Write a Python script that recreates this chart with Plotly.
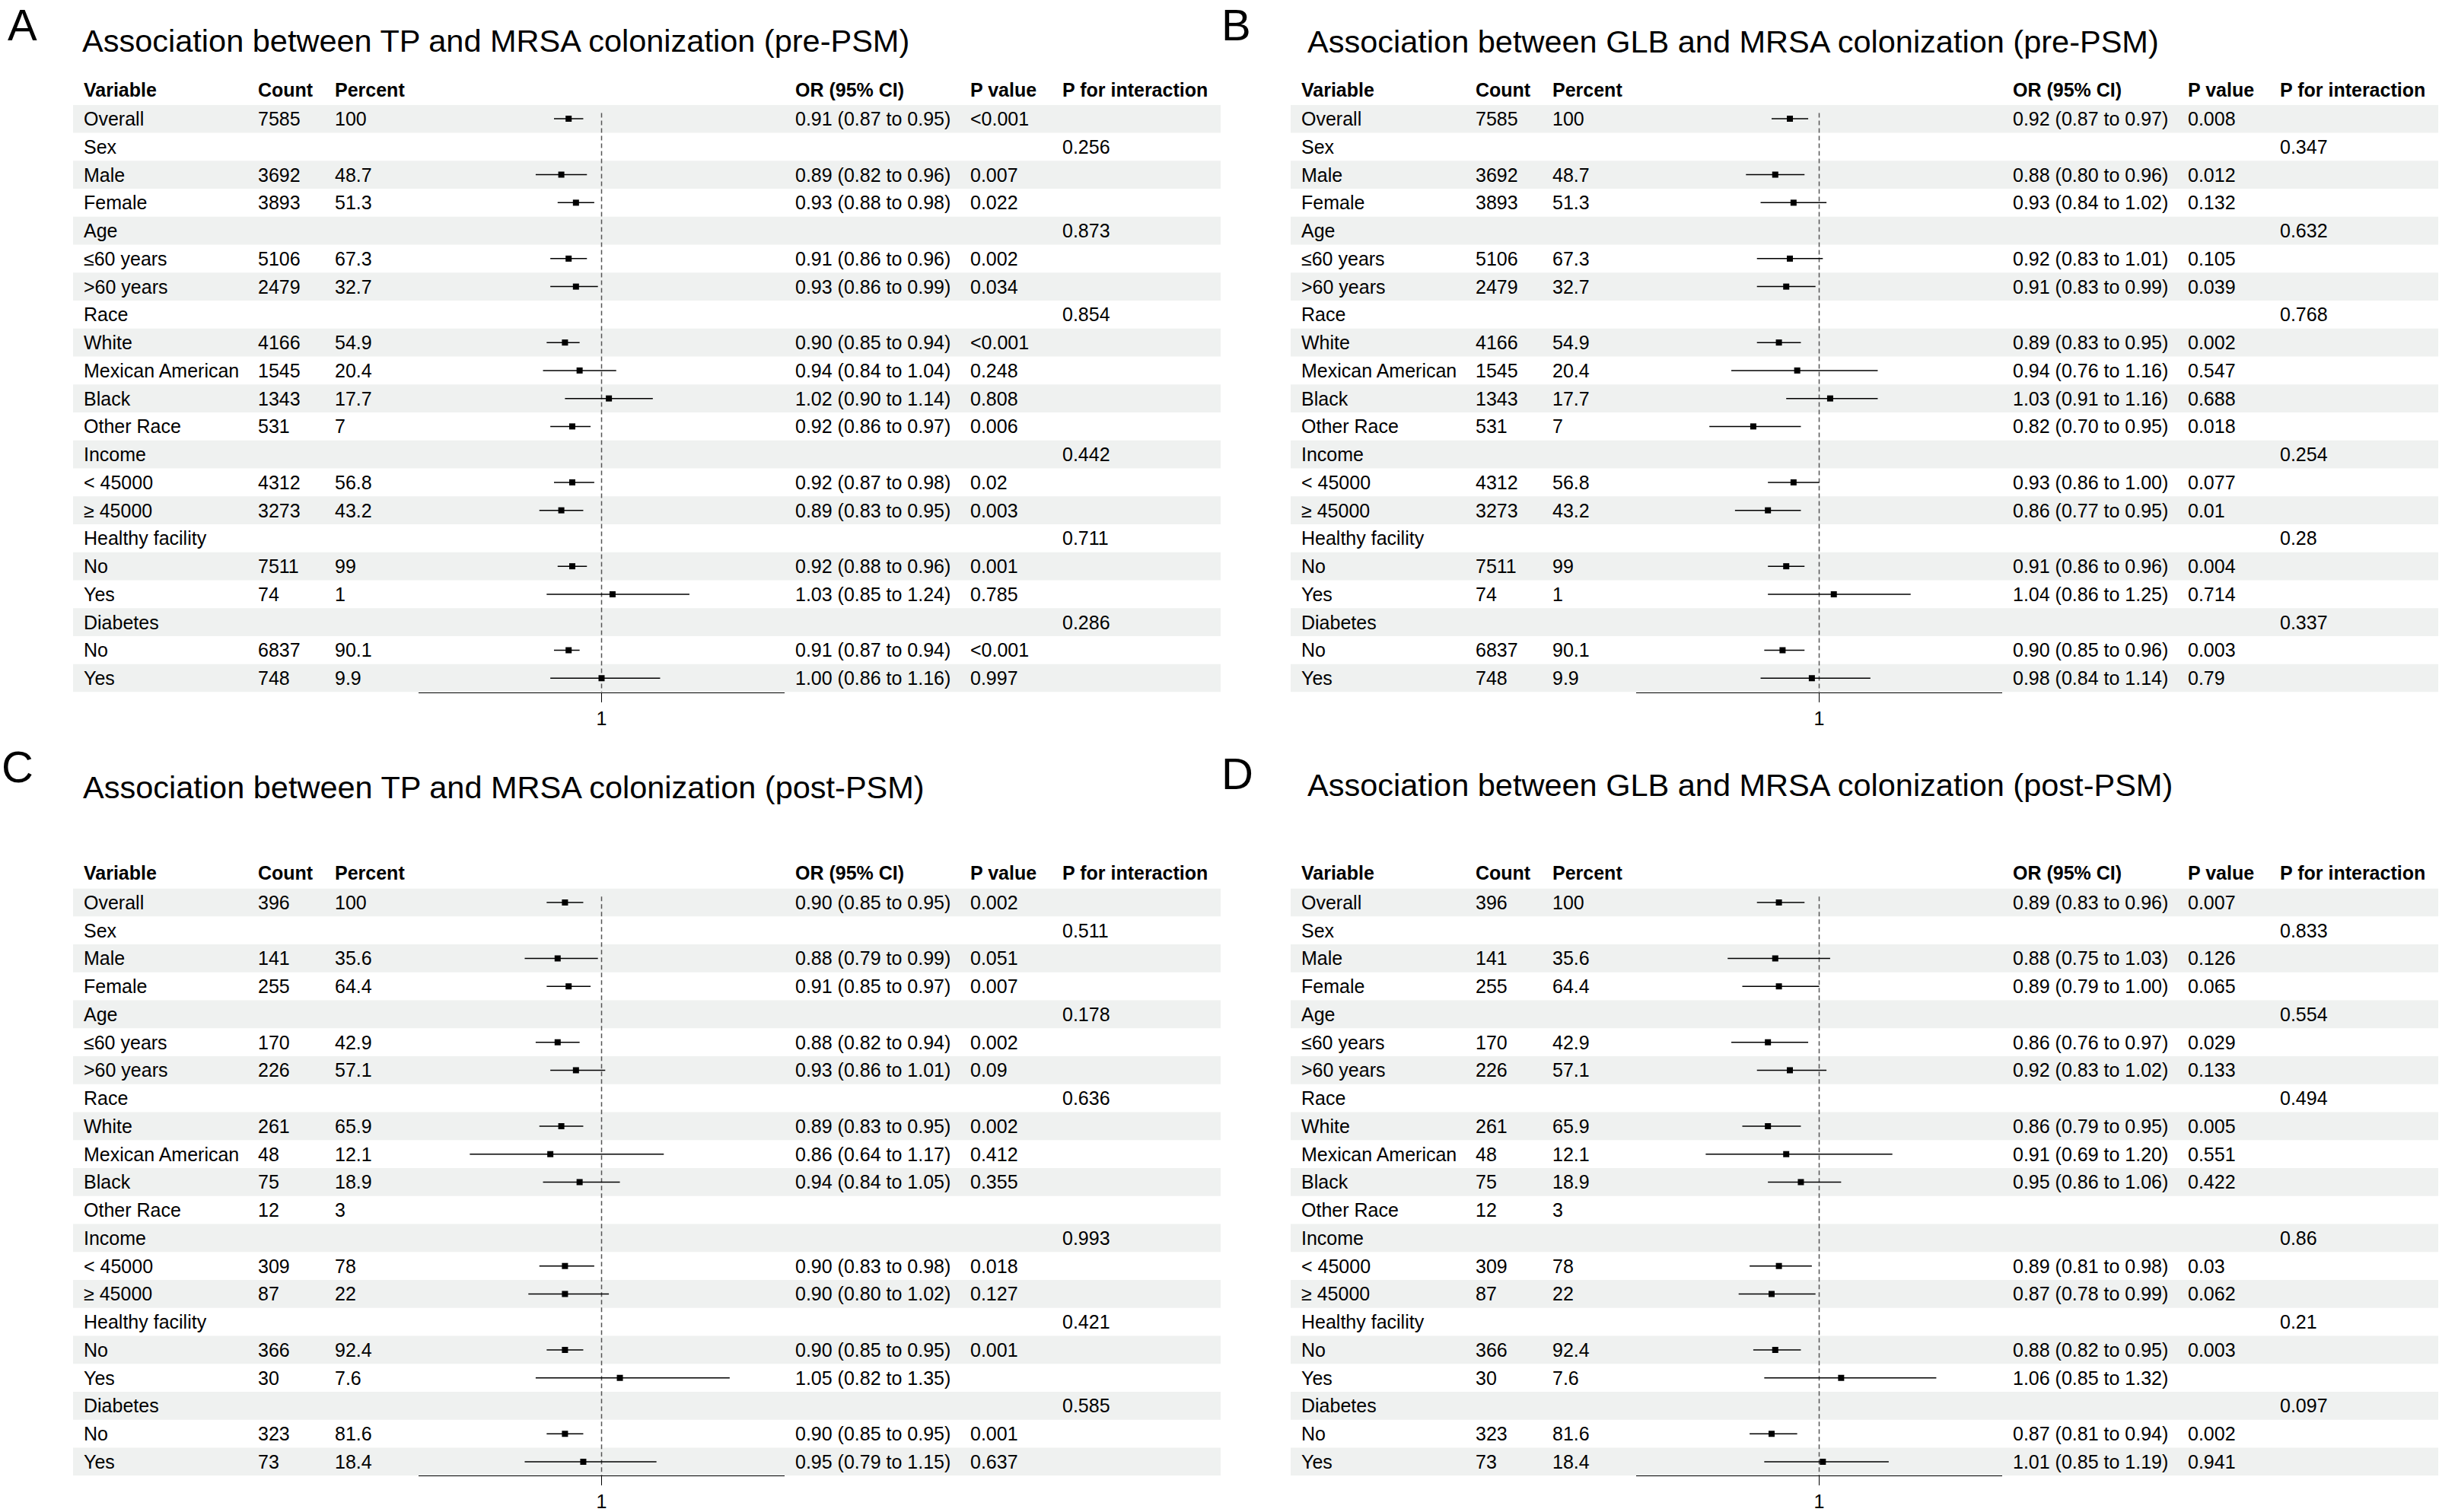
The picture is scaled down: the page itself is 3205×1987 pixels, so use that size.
import plotly.graph_objects as go

W, H = 3205, 1987
FONT = "Liberation Sans, Arial, Helvetica, sans-serif"

# rows of every panel
variables = ["Overall", "Sex", "Male", "Female", "Age", "≤60 years", ">60 years",
             "Race", "White", "Mexican American", "Black", "Other Race",
             "Income", "< 45000", "≥ 45000", "Healthy facility", "No", "Yes",
             "Diabetes", "No", "Yes"]
group_rows = [1, 4, 7, 12, 15, 18]

pre_count = [7585, None, 3692, 3893, None, 5106, 2479, None, 4166, 1545, 1343, 531,
             None, 4312, 3273, None, 7511, 74, None, 6837, 748]
pre_pct = [100, None, 48.7, 51.3, None, 67.3, 32.7, None, 54.9, 20.4, 17.7, 7,
           None, 56.8, 43.2, None, 99, 1, None, 90.1, 9.9]
post_count = [396, None, 141, 255, None, 170, 226, None, 261, 48, 75, 12,
              None, 309, 87, None, 366, 30, None, 323, 73]
post_pct = [100, None, 35.6, 64.4, None, 42.9, 57.1, None, 65.9, 12.1, 18.9, 3,
            None, 78, 22, None, 92.4, 7.6, None, 81.6, 18.4]

# A: TP, pre-PSM
tp_pre_or = [0.91, None, 0.89, 0.93, None, 0.91, 0.93, None, 0.90, 0.94, 1.02, 0.92,
             None, 0.92, 0.89, None, 0.92, 1.03, None, 0.91, 1.00]
tp_pre_lo = [0.87, None, 0.82, 0.88, None, 0.86, 0.86, None, 0.85, 0.84, 0.90, 0.86,
             None, 0.87, 0.83, None, 0.88, 0.85, None, 0.87, 0.86]
tp_pre_hi = [0.95, None, 0.96, 0.98, None, 0.96, 0.99, None, 0.94, 1.04, 1.14, 0.97,
             None, 0.98, 0.95, None, 0.96, 1.24, None, 0.94, 1.16]
tp_pre_p = ["<0.001", "", "0.007", "0.022", "", "0.002", "0.034", "", "<0.001", "0.248",
            "0.808", "0.006", "", "0.02", "0.003", "", "0.001", "0.785", "", "<0.001", "0.997"]
tp_pre_pint = ["0.256", "0.873", "0.854", "0.442", "0.711", "0.286"]

# B: GLB, pre-PSM
glb_pre_or = [0.92, None, 0.88, 0.93, None, 0.92, 0.91, None, 0.89, 0.94, 1.03, 0.82,
              None, 0.93, 0.86, None, 0.91, 1.04, None, 0.90, 0.98]
glb_pre_lo = [0.87, None, 0.80, 0.84, None, 0.83, 0.83, None, 0.83, 0.76, 0.91, 0.70,
              None, 0.86, 0.77, None, 0.86, 0.86, None, 0.85, 0.84]
glb_pre_hi = [0.97, None, 0.96, 1.02, None, 1.01, 0.99, None, 0.95, 1.16, 1.16, 0.95,
              None, 1.00, 0.95, None, 0.96, 1.25, None, 0.96, 1.14]
glb_pre_p = ["0.008", "", "0.012", "0.132", "", "0.105", "0.039", "", "0.002", "0.547",
             "0.688", "0.018", "", "0.077", "0.01", "", "0.004", "0.714", "", "0.003", "0.79"]
glb_pre_pint = ["0.347", "0.632", "0.768", "0.254", "0.28", "0.337"]

# C: TP, post-PSM
tp_post_or = [0.90, None, 0.88, 0.91, None, 0.88, 0.93, None, 0.89, 0.86, 0.94, None,
              None, 0.90, 0.90, None, 0.90, 1.05, None, 0.90, 0.95]
tp_post_lo = [0.85, None, 0.79, 0.85, None, 0.82, 0.86, None, 0.83, 0.64, 0.84, None,
              None, 0.83, 0.80, None, 0.85, 0.82, None, 0.85, 0.79]
tp_post_hi = [0.95, None, 0.99, 0.97, None, 0.94, 1.01, None, 0.95, 1.17, 1.05, None,
              None, 0.98, 1.02, None, 0.95, 1.35, None, 0.95, 1.15]
tp_post_p = ["0.002", "", "0.051", "0.007", "", "0.002", "0.09", "", "0.002", "0.412",
             "0.355", "", "", "0.018", "0.127", "", "0.001", "", "", "0.001", "0.637"]
tp_post_pint = ["0.511", "0.178", "0.636", "0.993", "0.421", "0.585"]

# D: GLB, post-PSM
glb_post_or = [0.89, None, 0.88, 0.89, None, 0.86, 0.92, None, 0.86, 0.91, 0.95, None,
               None, 0.89, 0.87, None, 0.88, 1.06, None, 0.87, 1.01]
glb_post_lo = [0.83, None, 0.75, 0.79, None, 0.76, 0.83, None, 0.79, 0.69, 0.86, None,
               None, 0.81, 0.78, None, 0.82, 0.85, None, 0.81, 0.85]
glb_post_hi = [0.96, None, 1.03, 1.00, None, 0.97, 1.02, None, 0.95, 1.20, 1.06, None,
               None, 0.98, 0.99, None, 0.95, 1.32, None, 0.94, 1.19]
glb_post_p = ["0.007", "", "0.126", "0.065", "", "0.029", "0.133", "", "0.005", "0.551",
              "0.422", "", "", "0.03", "0.062", "", "0.003", "", "", "0.002", "0.941"]
glb_post_pint = ["0.833", "0.554", "0.494", "0.86", "0.21", "0.097"]

headers = ["Variable", "Count", "Percent", "OR (95% CI)", "P value", "P for interaction"]
x_ticks = [1]

panels = [
    ("A", "Association between TP and MRSA colonization (pre-PSM)",
     pre_count, pre_pct, tp_pre_or, tp_pre_lo, tp_pre_hi, tp_pre_p, tp_pre_pint),
    ("B", "Association between GLB and MRSA colonization (pre-PSM)",
     pre_count, pre_pct, glb_pre_or, glb_pre_lo, glb_pre_hi, glb_pre_p, glb_pre_pint),
    ("C", "Association between TP and MRSA colonization (post-PSM)",
     post_count, post_pct, tp_post_or, tp_post_lo, tp_post_hi, tp_post_p, tp_post_pint),
    ("D", "Association between GLB and MRSA colonization (post-PSM)",
     post_count, post_pct, glb_post_or, glb_post_lo, glb_post_hi, glb_post_p, glb_post_pint),
]

# pixel layout (panel A), other panels are shifted
offsets = [(0, 0), (1600, 0), (0, 1034), (1600, 1034)]
letter_pos = [(8, 33), (1603, 33), (0, 1012), (1603, 1021)]
title_pos = [(106, 54), (1716, 55), (107, 1039), (1716, 1036)]
col_x = [108, 337, 438, 1043, 1273, 1394]
ROW_H = 36.9
TOP = 138.3
HEAD_Y = 118
BAND = "#eff1f0"


def fx(p):
    return p / W


def fy(p):
    return 1 - p / H


fig = go.Figure()
shapes, annotations, axes = [], [], {}

for k, (letter, title, cnt, pct, est, lo, hi, pv, pint) in enumerate(panels):
    dx, dy = offsets[k]
    sfx = "" if k == 0 else str(k + 1)
    xa, ya = "x" + sfx, "y" + sfx
    n = len(variables)

    axes["xaxis" + sfx] = dict(
        domain=[fx(550 + dx), fx(1031 + dx)], range=[0.5, 1.5], anchor=ya,
        showline=True, linecolor="black", linewidth=1.2, ticks="outside",
        ticklen=12, tickwidth=1.2, tickcolor="black", tickvals=x_ticks,
        ticktext=[str(t) for t in x_ticks], tickfont=dict(size=25, color="black"),
        showgrid=False, zeroline=False, fixedrange=True)
    axes["yaxis" + sfx] = dict(
        domain=[fy(TOP + dy + n * ROW_H), fy(TOP + dy)], range=[n - 0.5, -0.5],
        anchor=xa, visible=False, fixedrange=True)

    # zebra bands
    for i in range(0, n, 2):
        shapes.append(dict(type="rect", xref="paper", yref=ya, x0=fx(96 + dx),
                           x1=fx(1604 + dx), y0=i - 0.5, y1=i + 0.5,
                           fillcolor=BAND, line=dict(width=0), layer="below"))
    # reference line at 1
    shapes.append(dict(type="line", xref=xa, yref=ya, x0=1, x1=1, y0=-0.21, y1=n - 0.5,
                       line=dict(color="#555555", width=1.5, dash="6px,4px"), layer="below"))

    # estimates
    rows = [i for i in range(n) if est[i] is not None]
    fig.add_trace(go.Scatter(
        x=[est[i] for i in rows], y=rows, mode="markers", xaxis=xa, yaxis=ya,
        marker=dict(symbol="square", size=8, color="black"),
        error_x=dict(type="data", symmetric=False,
                     array=[hi[i] - est[i] for i in rows],
                     arrayminus=[est[i] - lo[i] for i in rows],
                     thickness=1.5, width=0, color="black"),
        showlegend=False, hoverinfo="skip"))

    # letter and title
    lx, ly = letter_pos[k]
    annotations.append(dict(text=letter, xref="paper", yref="paper", x=fx(lx), y=fy(ly),
                            xanchor="left", yanchor="middle", showarrow=False,
                            font=dict(size=58, color="black")))
    tx, ty = title_pos[k]
    annotations.append(dict(text=title, xref="paper", yref="paper", x=fx(tx), y=fy(ty),
                            xanchor="left", yanchor="middle", showarrow=False,
                            font=dict(size=41.5, color="black")))

    # header row
    for c, h in enumerate(headers):
        annotations.append(dict(text="<b>%s</b>" % h, xref="paper", yref="paper",
                                x=fx(col_x[c] + dx), y=fy(HEAD_Y + dy),
                                xanchor="left", yanchor="middle", showarrow=False,
                                font=dict(size=25, color="black")))

    # table cells
    for i in range(n):
        cells = [variables[i],
                 "" if cnt[i] is None else str(cnt[i]),
                 "" if pct[i] is None else "%g" % pct[i],
                 "" if est[i] is None else "%.2f (%.2f to %.2f)" % (est[i], lo[i], hi[i]),
                 pv[i],
                 pint[group_rows.index(i)] if i in group_rows else ""]
        for c, t in enumerate(cells):
            if not t:
                continue
            annotations.append(dict(text=t, xref="paper", yref=ya, x=fx(col_x[c] + dx), y=i,
                                    xanchor="left", yanchor="middle", showarrow=False,
                                    font=dict(size=25, color="black")))

fig.update_layout(
    width=W, height=H, margin=dict(l=0, r=0, t=0, b=0),
    paper_bgcolor="white", plot_bgcolor="rgba(0,0,0,0)",
    font=dict(family=FONT, color="black"),
    shapes=shapes, annotations=annotations, hovermode=False, showlegend=False,
    **axes)

# the page body has a default 8px margin; drop it so the figure sits at (0, 0)
fig.write_html("out.html", config={"displayModeBar": False},
               post_script="document.body.style.margin='0';")
